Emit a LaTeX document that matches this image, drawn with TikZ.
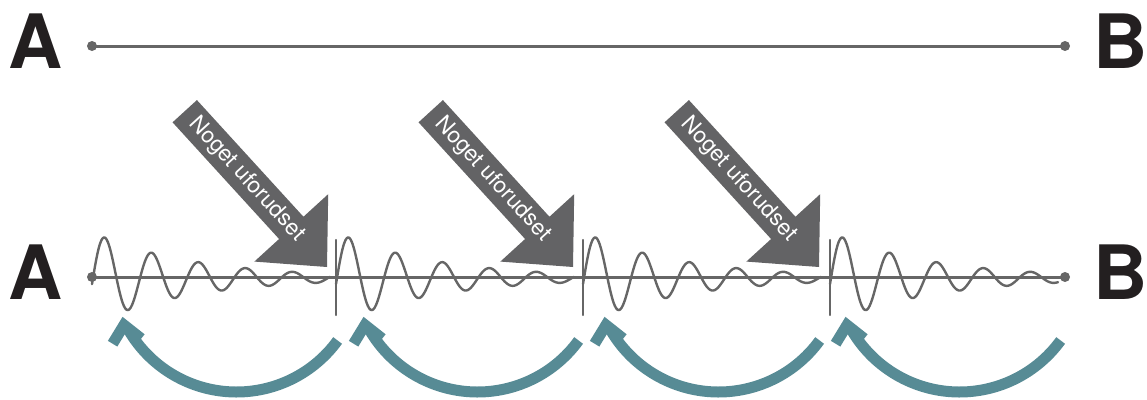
\documentclass[tikz,border=0pt]{standalone}
\usepackage{fontspec}
\setmainfont{TeX Gyre Heros}
\definecolor{TrackGray}{HTML}{666666}
\definecolor{ShockGray}{HTML}{636365}
\definecolor{ReturnTeal}{HTML}{578B95}
\definecolor{LabelBlack}{HTML}{231F20}

\begin{document}
\begin{tikzpicture}[x=1pt,y=-1pt,line cap=round,line join=round,
  endlabel/.style={font=\fontsize{75}{75}\selectfont\bfseries,text=LabelBlack,anchor=base,inner sep=0pt},
  track/.style={TrackGray,line width=3pt},
  wave/.style={TrackGray,line width=2.4pt},
  shocktext/.style={font=\fontsize{22.5}{22.5}\selectfont,text=white,inner sep=0pt,rotate=-47.6},
  returnarrow/.style={ReturnTeal,line width=11pt,line cap=butt},
  returnhead/.style={ReturnTeal,line width=11pt,line cap=butt,line join=miter}]
  \useasboundingbox (0,0) rectangle (1147,399);

  % straight route
  \coordinate (A1) at (92,46);
  \coordinate (B1) at (1065,46);
  \draw[track] (A1) -- (B1);
  \node[endlabel] (labA1) at (36,68) {A};
  \node[endlabel] (labB1) at (1121,68) {B};

  % disturbed route
  \coordinate (A2) at (92,277);
  \coordinate (B2) at (1065,277);
  \draw[track] (A2) -- (B2);
  \node[endlabel] (labA2) at (36,299) {A};
  \node[endlabel] (labB2) at (1121,299) {B};
  \foreach \P in {A1,B1,A2,B2}{\fill[TrackGray] (\P) circle (5pt);}

  \foreach \s/\seglen in {92/238,336/238,583/238,830/228}{
    \draw[wave] plot[variable=\t,domain=0:\seglen,samples=180,smooth]
      ({\s+\t},{278-46*exp(-\t/100)*sin((\t-1)*7.66)});
  }
  \foreach \bx in {336,583,830}{\draw[wave] (\bx,240) -- (\bx,315);}

  % shocks
  \foreach \i in {0,1,2}{
    \coordinate (tip\i) at (327+246*\i,267);
    \begin{scope}[shift={(tip\i)},rotate=-47.6]
      \fill[ShockGray] (0,0) -- (-53,-50) -- (-53,-16.5) -- (-211,-16.5)
        -- (-211,16.5) -- (-53,16.5) -- (-53,50) -- cycle;
      \node[shocktext] (shock\i) at (-119,0) {Noget uforudset};
    \end{scope}
  }

  % returns to the start of each swing
  \foreach \i in {0,...,3}{
    \coordinate (hop\i) at (236.5+241*\i,267);
    \coordinate (land\i) at (124+241*\i,325);
    \draw[returnarrow] (hop\i) ++(36:125) arc[start angle=36,end angle=151,radius=125];
    \draw[returnhead] (land\i) ++(-11.4,18.7) -- (land\i) -- ++(17.2,13.6);
  }
\end{tikzpicture}
\end{document}
